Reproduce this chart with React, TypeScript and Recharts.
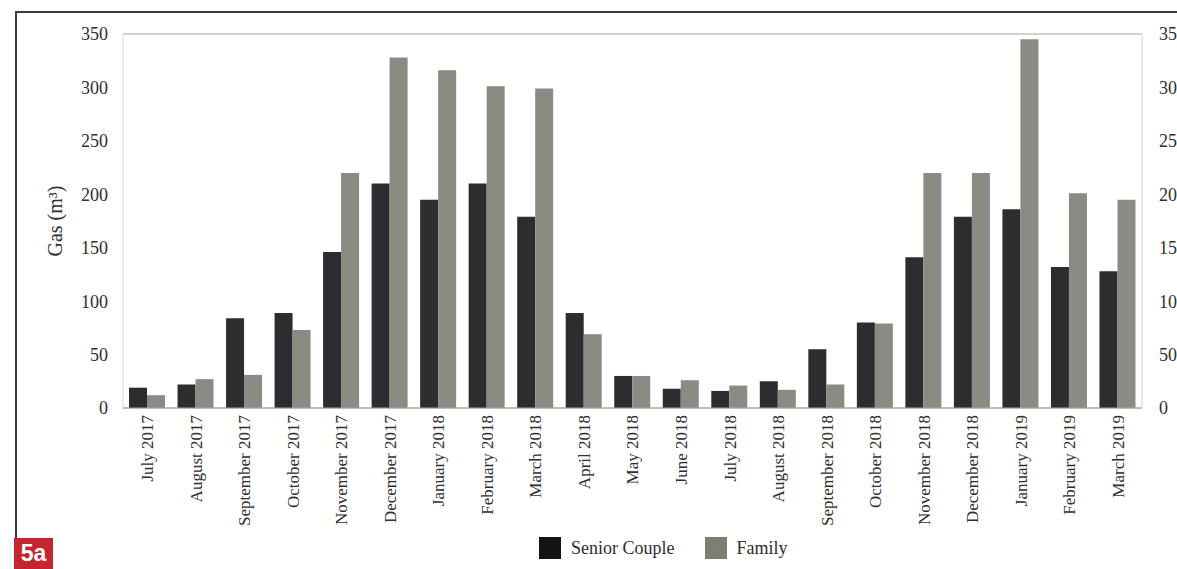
import React from "react";
import { Bar, BarChart, CartesianGrid, Legend, XAxis, YAxis } from "recharts";

// Monthly gas use, July 2017 – March 2019, two households.
const months = [
  "July 2017", "August 2017", "September 2017", "October 2017", "November 2017",
  "December 2017", "January 2018", "February 2018", "March 2018", "April 2018",
  "May 2018", "June 2018", "July 2018", "August 2018", "September 2018",
  "October 2018", "November 2018", "December 2018", "January 2019", "February 2019",
  "March 2019",
];
const seniorCouple = [19, 22, 84, 89, 146, 210, 195, 210, 179, 89, 30, 18, 16, 25, 55, 80, 141, 179, 186, 132, 128];
const family = [12, 27, 31, 73, 220, 328, 316, 301, 299, 69, 30, 26, 21, 17, 22, 79, 220, 220, 345, 201, 195];
const yTicks = [0, 50, 100, 150, 200, 250, 300, 350];

const data = months.map((m, i) => ({ mes: m, senior: seniorCouple[i], family: family[i] }));

const FONT = "'Liberation Serif', 'DejaVu Serif', serif";
const TEXT = "#2e2e2e";
const COR_SENIOR = "#2b2d2e";
const COR_FAMILY = "#8b8b84";

function TickMes({ x, y, payload }: { x?: number; y?: number; payload?: { value: string } }) {
  return (
    <g transform={`translate(${x},${y})`}>
      <text transform="rotate(-90)" x={0} y={0} dy="0.35em" textAnchor="end"
        fill={TEXT} fontSize={17} fontFamily={FONT}>
        {payload?.value}
      </text>
    </g>
  );
}

function Legenda() {
  const itens = [
    { nome: "Senior Couple", cor: "#141414" },
    { nome: "Family", cor: "#7c8072" },
  ];
  return (
    <div style={{ display: "flex", alignItems: "center", height: 30, fontFamily: FONT, fontSize: 18, color: TEXT }}>
      {itens.map((it, i) => (
        <div key={it.nome} style={{ display: "flex", alignItems: "center", marginRight: i === 0 ? 30 : 0 }}>
          <span style={{ width: 22, height: 22, background: it.cor, display: "inline-block", marginRight: 10 }} />
          <span>{it.nome}</span>
        </div>
      ))}
    </div>
  );
}

export default function App() {
  return (
    <div style={{ position: "absolute", left: 0, top: 0, width: 1177, height: 569, overflow: "hidden", background: "#fff" }}>
      {/* moldura da página */}
      <div style={{ position: "absolute", left: 17, top: 11, width: 1160, height: 2, background: "#3a3a3a" }} />
      <div style={{ position: "absolute", left: 15, top: 11, width: 2, height: 528, background: "#3a3a3a" }} />
      <div style={{
        position: "absolute", left: 14, top: 538, width: 39, height: 31, background: "#c4262e",
        color: "#fff", fontFamily: "'Liberation Sans', Arial, sans-serif", fontWeight: 700, fontSize: 23,
        display: "flex", alignItems: "center", justifyContent: "center",
      }}>5a</div>

      <BarChart width={1177} height={569} data={data}
        margin={{ top: 34, right: 0, bottom: 6, left: 0 }} barGap={0} barSize={18}>
        <CartesianGrid vertical={false} stroke="#a6a6a6" />
        <XAxis dataKey="mes" interval={0} height={125} tickSize={0} tickMargin={7}
          axisLine={{ stroke: "#a6a6a6" }} tick={<TickMes />} />
        <YAxis yAxisId="left" width={123} domain={[0, 350]} ticks={yTicks} tickSize={0} tickMargin={15}
          axisLine={{ stroke: "#d4d4d4" }}
          tick={{ fill: TEXT, fontSize: 18, fontFamily: FONT }}
          label={{ value: "Gas (m³)", angle: -90, position: "insideLeft", offset: 55,
            style: { fill: TEXT, fontSize: 20, fontFamily: FONT, textAnchor: "middle" } }} />
        <YAxis yAxisId="right" orientation="right" width={35} type="number" domain={[0, 350]}
          allowDataOverflow ticks={yTicks}
          tickSize={0} tickMargin={17} axisLine={{ stroke: "#d4d4d4" }}
          tick={{ fill: TEXT, fontSize: 18, fontFamily: FONT }} />
        <Legend verticalAlign="bottom" content={<Legenda />} wrapperStyle={{ left: 539, width: 300 }} />
        <Bar yAxisId="left" dataKey="senior" name="Senior Couple" fill={COR_SENIOR} isAnimationActive={false} />
        <Bar yAxisId="left" dataKey="family" name="Family" fill={COR_FAMILY} isAnimationActive={false} />
      </BarChart>
    </div>
  );
}
